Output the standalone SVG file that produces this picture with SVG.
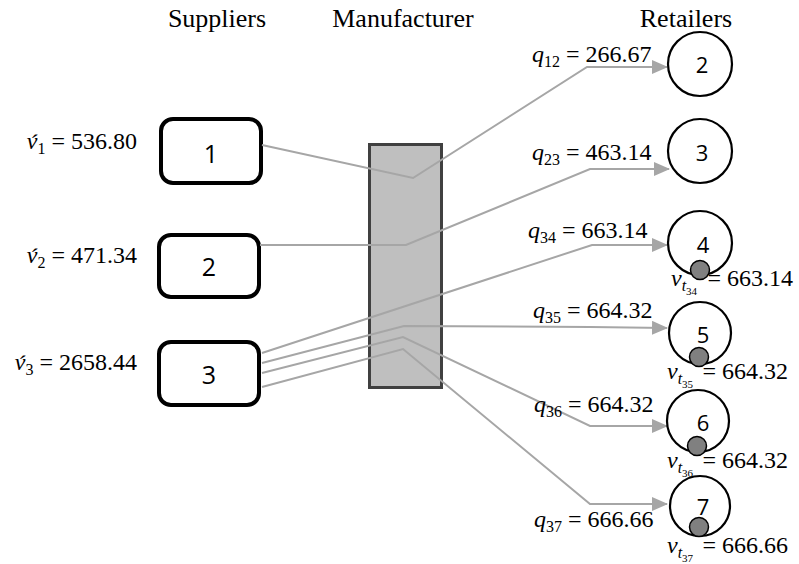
<svg xmlns="http://www.w3.org/2000/svg" width="799" height="564" viewBox="0 0 799 564">
  <style>
    .hdr { font-family: "Liberation Serif", "Times New Roman", serif; font-size: 26px; fill: #000; text-anchor: middle; }
    .math { font-family: "Liberation Serif", "Times New Roman", serif; font-size: 24px; fill: #000; }
    .it { font-style: italic; }
    .num { font-family: "Open Sans", "Liberation Sans", sans-serif; font-size: 25px; fill: #000; text-anchor: middle; }
    .cnum { font-family: "Open Sans", "Liberation Sans", sans-serif; font-size: 22px; fill: #000; text-anchor: middle; }
    .box { fill: #fff; stroke: #000; stroke-width: 4; }
    .ret { fill: #fff; stroke: #000; stroke-width: 2.2; }
    .dot { fill: #808080; stroke: #000; stroke-width: 1.5; }
    .mfg { fill: #bfbfbf; stroke: #404040; stroke-width: 3; }
    .flow { fill: none; stroke: #a6a6a6; stroke-width: 2; }
    .flow.arrow { marker-end: url(#head); }
  </style>
  <defs>
    <marker id="head" markerUnits="userSpaceOnUse" markerWidth="16" markerHeight="14" refX="15" refY="7" orient="auto">
      <path d="M0,0 L16,7 L0,14 Z" fill="#a6a6a6"/>
    </marker>
  </defs>

  <rect width="799" height="564" fill="#fff"/>

  <!-- column headings -->
  <text class="hdr" x="217" y="27">Suppliers</text>
  <text class="hdr" x="403" y="27">Manufacturer</text>
  <text class="hdr" x="686" y="27">Retailers</text>

  <!-- manufacturer -->
  <g id="manufacturer">
    <rect class="mfg" x="369.5" y="144.5" width="72" height="243"/>
  </g>

  <!-- suppliers -->
  <g id="supplier-1">
    <rect class="box" x="161" y="119" width="100" height="64" rx="12"/>
    <text class="num" x="211" y="163">1</text>
    <text class="math" x="137" y="149" text-anchor="end"><tspan class="it">v&#x301;</tspan><tspan font-size="16" dy="5">1</tspan><tspan dy="-5"> = 536.80</tspan></text>
  </g>
  <g id="supplier-2">
    <rect class="box" x="159" y="235" width="100" height="62" rx="12"/>
    <text class="num" x="209" y="276">2</text>
    <text class="math" x="137" y="263" text-anchor="end"><tspan class="it">v&#x301;</tspan><tspan font-size="16" dy="5">2</tspan><tspan dy="-5"> = 471.34</tspan></text>
  </g>
  <g id="supplier-3">
    <rect class="box" x="159" y="342" width="100" height="63" rx="12"/>
    <text class="num" x="209" y="384">3</text>
    <text class="math" x="137" y="370" text-anchor="end"><tspan class="it">v&#x301;</tspan><tspan font-size="16" dy="5">3</tspan><tspan dy="-5"> = 2658.44</tspan></text>
  </g>

  <!-- shipments -->
  <g id="connectors">
    <polyline class="flow arrow" points="262,145 413,178 587,67 667,67"/>
    <polyline class="flow arrow" points="260,245 406,245 590,169 669,169"/>
    <polyline class="flow arrow" points="262,353 592,245 667,245"/>
    <polyline class="flow arrow" points="262,363 404,326 590,327 667,328"/>
    <polyline class="flow arrow" points="262,373 403,337 590,426 667,426"/>
    <polyline class="flow arrow" points="262,387 403,349 590,504 667,504"/>
  </g>

  <!-- flow labels -->
  <g id="flow-labels">
    <text class="math" x="532" y="62"><tspan class="it">q</tspan><tspan font-size="16" dy="5">12</tspan><tspan dy="-5"> = 266.67</tspan></text>
    <text class="math" x="532" y="160"><tspan class="it">q</tspan><tspan font-size="16" dy="5">23</tspan><tspan dy="-5"> = 463.14</tspan></text>
    <text class="math" x="528" y="238"><tspan class="it">q</tspan><tspan font-size="16" dy="5">34</tspan><tspan dy="-5"> = 663.14</tspan></text>
    <text class="math" x="533" y="318"><tspan class="it">q</tspan><tspan font-size="16" dy="5">35</tspan><tspan dy="-5"> = 664.32</tspan></text>
    <text class="math" x="534" y="412"><tspan class="it">q</tspan><tspan font-size="16" dy="5">36</tspan><tspan dy="-5"> = 664.32</tspan></text>
    <text class="math" x="534" y="527"><tspan class="it">q</tspan><tspan font-size="16" dy="5">37</tspan><tspan dy="-5"> = 666.66</tspan></text>
  </g>

  <!-- retailers -->
  <g id="retailer-2">
    <circle class="ret" cx="700" cy="64" r="32"/>
    <text class="cnum" x="702" y="73">2</text>
  </g>
  <g id="retailer-3">
    <circle class="ret" cx="700" cy="151" r="32"/>
    <text class="cnum" x="702" y="161">3</text>
  </g>
  <g id="retailer-4">
    <circle class="ret" cx="700" cy="243" r="32"/>
    <text class="cnum" x="703" y="253">4</text>
    <circle class="dot" cx="700" cy="270" r="9.5"/>
    <text class="math" x="671" y="286"><tspan class="it">v</tspan><tspan class="it" font-size="16" dy="5">t</tspan><tspan font-size="11" dy="4">34</tspan></text>
    <text class="math" x="793" y="286" text-anchor="end">= 663.14</text>
  </g>
  <g id="retailer-5">
    <circle class="ret" cx="700" cy="333" r="31"/>
    <text class="cnum" x="703" y="343">5</text>
    <circle class="dot" cx="699" cy="357" r="9.5"/>
    <text class="math" x="667" y="379"><tspan class="it">v</tspan><tspan class="it" font-size="16" dy="5">t</tspan><tspan font-size="11" dy="4">35</tspan></text>
    <text class="math" x="788" y="379" text-anchor="end">= 664.32</text>
  </g>
  <g id="retailer-6">
    <circle class="ret" cx="698" cy="421" r="31"/>
    <text class="cnum" x="703" y="431">6</text>
    <circle class="dot" cx="697" cy="446" r="9.5"/>
    <text class="math" x="667" y="468"><tspan class="it">v</tspan><tspan class="it" font-size="16" dy="5">t</tspan><tspan font-size="11" dy="4">36</tspan></text>
    <text class="math" x="788" y="468" text-anchor="end">= 664.32</text>
  </g>
  <g id="retailer-7">
    <circle class="ret" cx="700" cy="506" r="30"/>
    <text class="cnum" x="703" y="515">7</text>
    <circle class="dot" cx="699" cy="527" r="9.5"/>
    <text class="math" x="667" y="553"><tspan class="it">v</tspan><tspan class="it" font-size="16" dy="5">t</tspan><tspan font-size="11" dy="4">37</tspan></text>
    <text class="math" x="788" y="553" text-anchor="end">= 666.66</text>
  </g>
</svg>
